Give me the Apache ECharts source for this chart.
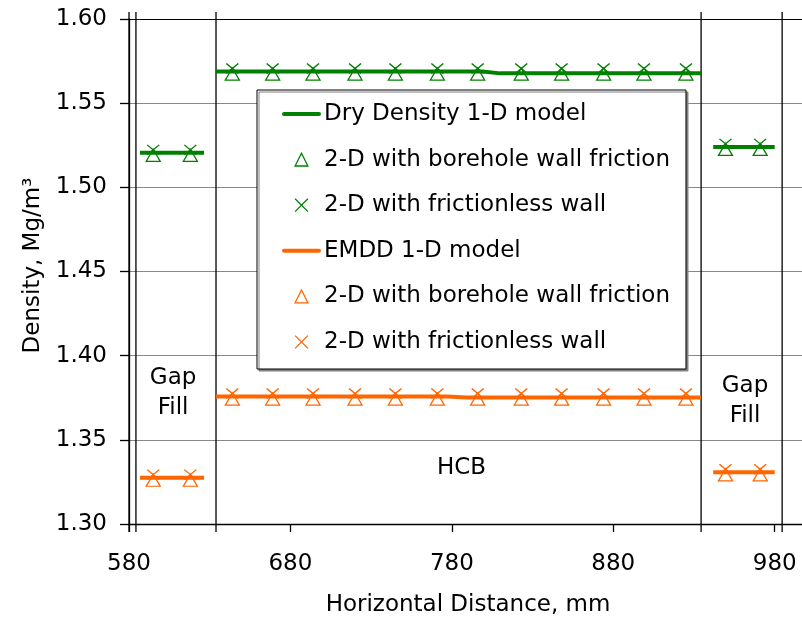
<!DOCTYPE html>
<html><head><meta charset="utf-8">
<script src="https://cdn.jsdelivr.net/npm/echarts@6/dist/echarts.min.js"></script>
<style>html,body{margin:0;padding:0;background:#fff}#c{width:802px;height:624px}</style>
</head><body><div id="c"></div>
<script>
const FONT = 'DejaVu Sans';
const GREEN = '#008000', ORANGE = '#FF6600';

// axis ticks
const xTickValues = [580, 680, 780, 880, 980];
const yMin = 1.30, yMax = 1.60, yStep = 0.05;

// boundary lines (borehole wall, gap fill / HCB interfaces)
const boundaryX = [580, 584.3, 633.9, 934.4, 984.6];
const boundaryY = [1.2952, 1.6042];

// 1-D model lines (null = break between zones)
const dryModelX  = [586.8, 626.5, null, 633.9, 799, 810, 934.4, null, 941.9, 980];
const dryModelY  = [1.5205, 1.5205, null, 1.5688, 1.5688, 1.5677, 1.5677, null, 1.524, 1.524];
const emddModelX = [586.8, 626.5, null, 633.9, 777, 789, 934.4, null, 941.9, 980];
const emddModelY = [1.3275, 1.3275, null, 1.3757, 1.3757, 1.3751, 1.3751, null, 1.3307, 1.3307];

// 2-D model marker positions
const markerX = [595, 618, 644, 669, 694, 720, 745, 771, 796, 823, 848, 874, 899, 925, 949.5, 971];
const dryFriction      = [1.519, 1.519, 1.5673, 1.5673, 1.5673, 1.5673, 1.5673, 1.5673, 1.5673, 1.5673, 1.5673, 1.5673, 1.5673, 1.5673, 1.5225, 1.5225];
const dryFrictionless  = [1.5223, 1.5223, 1.5706, 1.5706, 1.5706, 1.5706, 1.5706, 1.5706, 1.5706, 1.5706, 1.5706, 1.5706, 1.5706, 1.5706, 1.5258, 1.5258];
const emddFriction     = [1.326, 1.326, 1.3742, 1.3742, 1.3742, 1.3742, 1.3742, 1.3742, 1.3742, 1.3742, 1.3742, 1.3742, 1.3742, 1.3742, 1.3292, 1.3292];
const emddFrictionless = [1.3293, 1.3293, 1.3775, 1.3775, 1.3775, 1.3775, 1.3775, 1.3775, 1.3775, 1.3775, 1.3775, 1.3775, 1.3775, 1.3775, 1.3325, 1.3325];

// legend labels
const legendLabels = ['Dry Density 1-D model', '2-D with borehole wall friction', '2-D with frictionless wall',
                      'EMDD 1-D model', '2-D with borehole wall friction', '2-D with frictionless wall'];

// zone annotations
const noteText = ['Gap\nFill', 'HCB', 'Gap\nFill'];
const noteX = [607.3, 786, 961.6];
const noteY = [1.3778, 1.3333, 1.3732];

const CROSS = 'path://M0,0L10,10M10,0L0,10';

function pts(xs, ys) { return xs.map((x, i) => x == null ? ['-', '-'] : [x, ys[i]]); }

const chart = echarts.init(document.getElementById('c'), null, {renderer: 'canvas'});

const series = [];
boundaryX.forEach((x) => {
  series.push({type: 'line', name: 'b' + x, data: [[x, boundaryY[0]], [x, boundaryY[1]]],
    symbol: 'none', clip: false, silent: true, lineStyle: {color: '#000', width: 1.3}, z: 1});
});
function modelLine(id, xs, ys, color) {
  return {type: 'line', name: id, data: pts(xs, ys), symbol: 'none', connectNulls: false,
    lineStyle: {color: color, width: 4, cap: 'butt'}, itemStyle: {color: color}, silent: true, z: 2};
}
function markers(id, ys, color, sym, size) {
  return {type: 'line', name: id, data: markerX.map((x, i) => [x, ys[i]]), symbol: sym, symbolSize: size,
    showSymbol: true, lineStyle: {width: 0, opacity: 0},
    itemStyle: {color: 'rgba(0,0,0,0)', borderColor: color, borderWidth: 1.3}, silent: true, z: 3};
}
series.push(modelLine('s0', dryModelX, dryModelY, GREEN));
series.push(markers('s1', dryFriction, GREEN, 'triangle', [14, 12]));
series.push(markers('s2', dryFrictionless, GREEN, CROSS, [12, 10]));
series.push(modelLine('s3', emddModelX, emddModelY, ORANGE));
series.push(markers('s4', emddFriction, ORANGE, 'triangle', [14, 12]));
series.push(markers('s5', emddFrictionless, ORANGE, CROSS, [12, 10]));
series.push({type: 'scatter', name: 'notes', silent: true, symbolSize: 1,
  itemStyle: {color: 'rgba(0,0,0,0)'},
  data: noteText.map((t, i) => ({name: t, value: [noteX[i], noteY[i]]})),
  label: {show: true, position: 'inside', formatter: (p) => p.name, color: '#000',
    textBorderWidth: 0, opacity: 1,
    fontFamily: FONT, fontSize: 23, lineHeight: 30}, z: 4});

const colorsFor = [GREEN, GREEN, GREEN, ORANGE, ORANGE, ORANGE];
const legendData = ['s0', 's1', 's2', 's3', 's4', 's5'].map((n, i) => {
  const isLine = (i % 3 === 0);
  return isLine
    ? {name: n, lineStyle: {color: colorsFor[i], width: 4, cap: 'round', opacity: 1}, itemStyle: {opacity: 0}}
    : {name: n, lineStyle: {width: 0, opacity: 0},
       itemStyle: {color: 'rgba(0,0,0,0)', borderColor: colorsFor[i], borderWidth: 1.3, opacity: 1}};
});

const ySplitColors = ['#888', '#888', '#888', '#888', '#888', '#888', '#000'];

chart.setOption({
  animation: false,
  backgroundColor: '#fff',
  textStyle: {fontFamily: FONT},
  grid: {left: 129, top: 19, width: 678, height: 505, containLabel: false, outerBoundsMode: 'none'},
  legend: {
    orient: 'vertical', left: 257, top: 90, padding: [11, 16, 14, 25],
    itemWidth: 35, itemHeight: 16, itemGap: 19.6,
    backgroundColor: '#fff', borderColor: '#000', borderWidth: 1,
    shadowColor: '#808080', shadowOffsetX: 2, shadowOffsetY: 2, shadowBlur: 0,
    textStyle: {fontFamily: FONT, fontSize: 23, color: '#000', lineHeight: 26},
    formatter: (n) => legendLabels[+n.slice(1)],
    selectedMode: false,
    data: legendData
  },
  xAxis: {
    type: 'value', min: 580, max: 1000,
    axisLine: {show: true, lineStyle: {color: '#000', width: 1.3}},
    axisTick: {show: true, customValues: xTickValues, length: 8, lineStyle: {color: '#000', width: 1.3}},
    axisLabel: {customValues: xTickValues, margin: 29, fontFamily: FONT, fontSize: 23, color: '#000'},
    splitLine: {show: false},
    name: 'Horizontal Distance, mm', nameLocation: 'middle', nameGap: 70,
    nameTextStyle: {fontFamily: FONT, fontSize: 23, color: '#000'}
  },
  yAxis: {
    type: 'value', min: yMin, max: yMax, interval: yStep,
    axisLine: {show: true, lineStyle: {color: '#000', width: 1.3}},
    axisTick: {show: true, length: 9, lineStyle: {color: '#000', width: 1.3}},
    axisLabel: {formatter: (v) => v.toFixed(2), margin: 22, fontFamily: FONT, fontSize: 23, color: '#000'},
    splitLine: {show: true, lineStyle: {color: ySplitColors, width: 1.2}},
    name: 'Density, Mg/m³', nameLocation: 'middle', nameGap: 84, nameRotate: 90,
    nameTextStyle: {fontFamily: FONT, fontSize: 23, color: '#000', padding: [0, 0, 0, 12]}
  },
  series: series
});
</script></body></html>
